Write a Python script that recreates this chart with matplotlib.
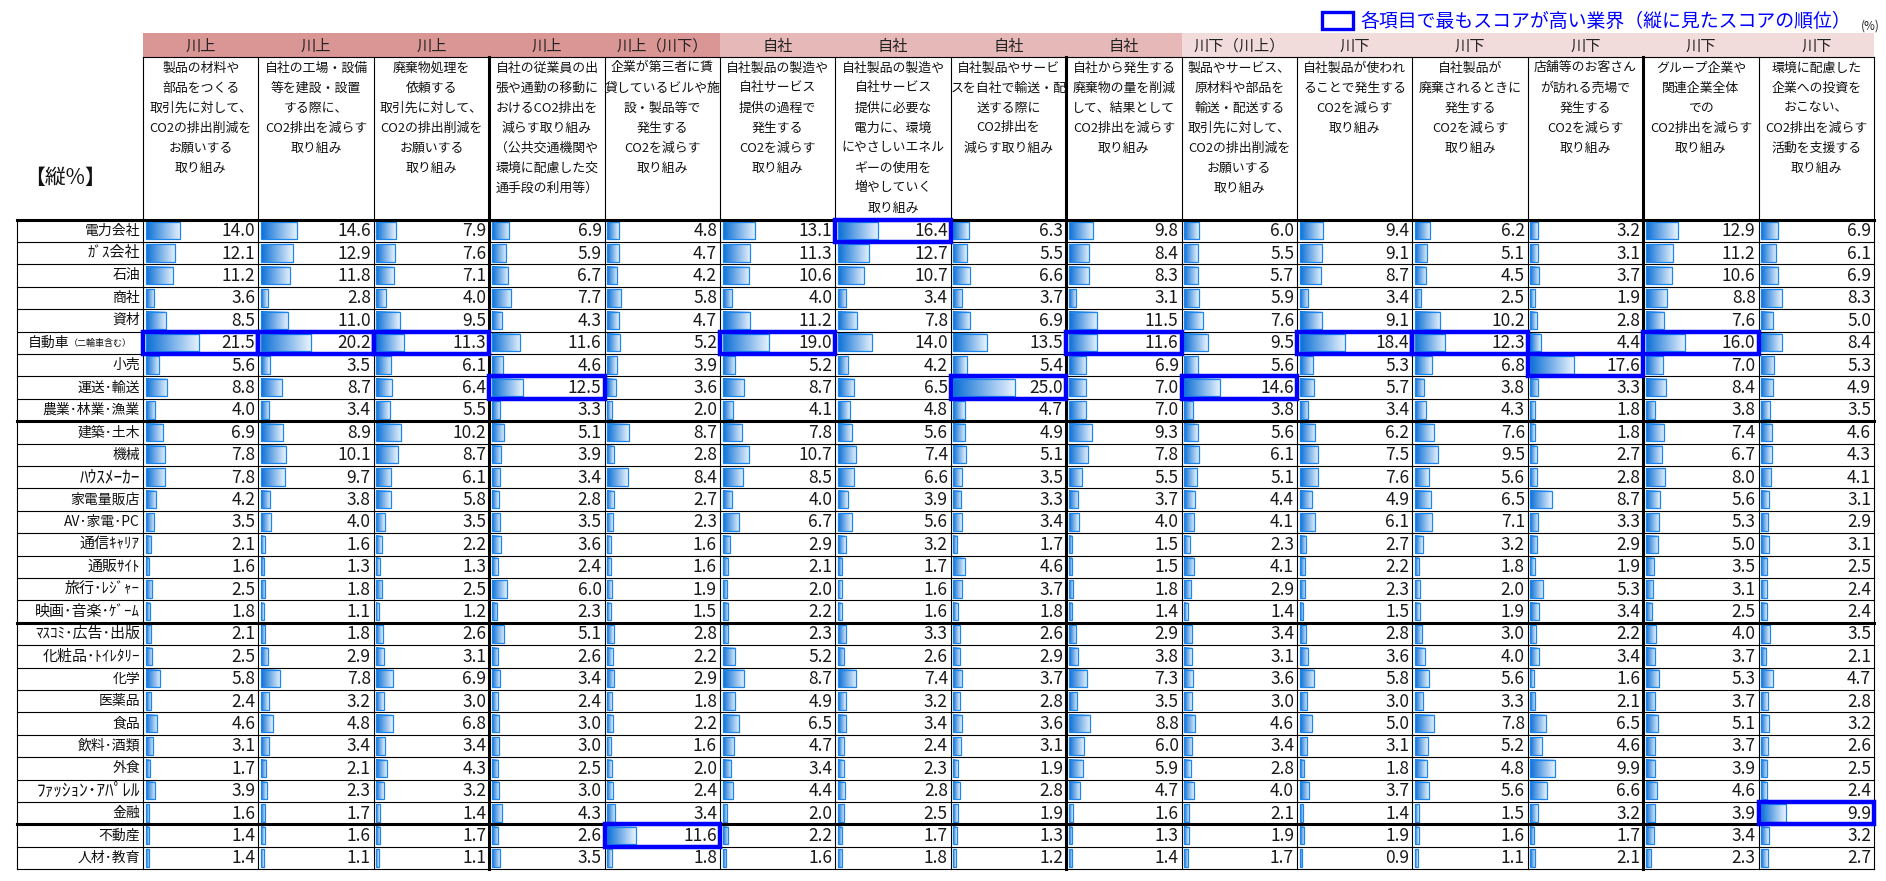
import numpy as np
import matplotlib.pyplot as plt
from matplotlib.colors import LinearSegmentedColormap
from matplotlib.patches import Rectangle

plt.rcParams['font.family'] = ['Noto Sans CJK JP', 'DejaVu Sans']

# row labels (industries)
industries = ["電力会社", "ｶﾞｽ会社", "石油", "商社", "資材", "自動車", "小売", "運送･輸送",
              "農業･林業･漁業", "建築･土木", "機械", "ﾊｳｽﾒｰｶｰ", "家電量販店", "AV･家電･PC",
              "通信ｷｬﾘｱ", "通販ｻｲﾄ", "旅行･ﾚｼﾞｬｰ", "映画･音楽･ｹﾞｰﾑ", "ﾏｽｺﾐ･広告･出版",
              "化粧品･ﾄｲﾚﾀﾘｰ", "化学", "医薬品", "食品", "飲料･酒類", "外食", "ﾌｧｯｼｮﾝ･ｱﾊﾟﾚﾙ",
              "金融", "不動産", "人材･教育"]

stages = ["川上", "川上", "川上", "川上", "川上（川下）", "自社", "自社", "自社", "自社",
          "川下（川上）", "川下", "川下", "川下", "川下", "川下"]

headers = [
    ["製品の材料や", "部品をつくる", "取引先に対して、", "CO2の排出削減を", "お願いする", "取り組み"],
    ["自社の工場・設備", "等を建設・設置", "する際に、", "CO2排出を減らす", "取り組み"],
    ["廃棄物処理を", "依頼する", "取引先に対して、", "CO2の排出削減を", "お願いする", "取り組み"],
    ["自社の従業員の出", "張や通勤の移動に", "おけるCO2排出を", "減らす取り組み", "（公共交通機関や",
     "環境に配慮した交", "通手段の利用等）"],
    ["企業が第三者に賃", "貸しているビルや施", "設・製品等で", "発生する", "CO2を減らす", "取り組み"],
    ["自社製品の製造や", "自社サービス", "提供の過程で", "発生する", "CO2を減らす", "取り組み"],
    ["自社製品の製造や", "自社サービス", "提供に必要な", "電力に、環境", "にやさしいエネル",
     "ギーの使用を", "増やしていく", "取り組み"],
    ["自社製品やサービ", "スを自社で輸送・配", "送する際に", "CO2排出を", "減らす取り組み"],
    ["自社から発生する", "廃棄物の量を削減", "して、結果として", "CO2排出を減らす", "取り組み"],
    ["製品やサービス、", "原材料や部品を", "輸送・配送する", "取引先に対して、", "CO2の排出削減を",
     "お願いする", "取り組み"],
    ["自社製品が使われ", "ることで発生する", "CO2を減らす", "取り組み"],
    ["自社製品が", "廃棄されるときに", "発生する", "CO2を減らす", "取り組み"],
    ["店舗等のお客さん", "が訪れる売場で", "発生する", "CO2を減らす", "取り組み"],
    ["グループ企業や", "関連企業全体", "での", "CO2排出を減らす", "取り組み"],
    ["環境に配慮した", "企業への投資を", "おこない、", "CO2排出を減らす", "活動を支援する", "取り組み"],
]

# values per column (縦%)
up_materials = [14.0, 12.1, 11.2, 3.6, 8.5, 21.5, 5.6, 8.8, 4.0, 6.9, 7.8, 7.8, 4.2, 3.5, 2.1,
                1.6, 2.5, 1.8, 2.1, 2.5, 5.8, 2.4, 4.6, 3.1, 1.7, 3.9, 1.6, 1.4, 1.4]
up_facilities = [14.6, 12.9, 11.8, 2.8, 11.0, 20.2, 3.5, 8.7, 3.4, 8.9, 10.1, 9.7, 3.8, 4.0, 1.6,
                 1.3, 1.8, 1.1, 1.8, 2.9, 7.8, 3.2, 4.8, 3.4, 2.1, 2.3, 1.7, 1.6, 1.1]
up_waste = [7.9, 7.6, 7.1, 4.0, 9.5, 11.3, 6.1, 6.4, 5.5, 10.2, 8.7, 6.1, 5.8, 3.5, 2.2,
            1.3, 2.5, 1.2, 2.6, 3.1, 6.9, 3.0, 6.8, 3.4, 4.3, 3.2, 1.4, 1.7, 1.1]
up_commute = [6.9, 5.9, 6.7, 7.7, 4.3, 11.6, 4.6, 12.5, 3.3, 5.1, 3.9, 3.4, 2.8, 3.5, 3.6,
              2.4, 6.0, 2.3, 5.1, 2.6, 3.4, 2.4, 3.0, 3.0, 2.5, 3.0, 4.3, 2.6, 3.5]
up_leased = [4.8, 4.7, 4.2, 5.8, 4.7, 5.2, 3.9, 3.6, 2.0, 8.7, 2.8, 8.4, 2.7, 2.3, 1.6,
             1.6, 1.9, 1.5, 2.8, 2.2, 2.9, 1.8, 2.2, 1.6, 2.0, 2.4, 3.4, 11.6, 1.8]
own_process = [13.1, 11.3, 10.6, 4.0, 11.2, 19.0, 5.2, 8.7, 4.1, 7.8, 10.7, 8.5, 4.0, 6.7, 2.9,
               2.1, 2.0, 2.2, 2.3, 5.2, 8.7, 4.9, 6.5, 4.7, 3.4, 4.4, 2.0, 2.2, 1.6]
own_energy = [16.4, 12.7, 10.7, 3.4, 7.8, 14.0, 4.2, 6.5, 4.8, 5.6, 7.4, 6.6, 3.9, 5.6, 3.2,
              1.7, 1.6, 1.6, 3.3, 2.6, 7.4, 3.2, 3.4, 2.4, 2.3, 2.8, 2.5, 1.7, 1.8]
own_transport = [6.3, 5.5, 6.6, 3.7, 6.9, 13.5, 5.4, 25.0, 4.7, 4.9, 5.1, 3.5, 3.3, 3.4, 1.7,
                 4.6, 3.7, 1.8, 2.6, 2.9, 3.7, 2.8, 3.6, 3.1, 1.9, 2.8, 1.9, 1.3, 1.2]
own_waste = [9.8, 8.4, 8.3, 3.1, 11.5, 11.6, 6.9, 7.0, 7.0, 9.3, 7.8, 5.5, 3.7, 4.0, 1.5,
             1.5, 1.8, 1.4, 2.9, 3.8, 7.3, 3.5, 8.8, 6.0, 5.9, 4.7, 1.6, 1.3, 1.4]
down_logistics = [6.0, 5.5, 5.7, 5.9, 7.6, 9.5, 5.6, 14.6, 3.8, 5.6, 6.1, 5.1, 4.4, 4.1, 2.3,
                  4.1, 2.9, 1.4, 3.4, 3.1, 3.6, 3.0, 4.6, 3.4, 2.8, 4.0, 2.1, 1.9, 1.7]
down_use = [9.4, 9.1, 8.7, 3.4, 9.1, 18.4, 5.3, 5.7, 3.4, 6.2, 7.5, 7.6, 4.9, 6.1, 2.7,
            2.2, 2.3, 1.5, 2.8, 3.6, 5.8, 3.0, 5.0, 3.1, 1.8, 3.7, 1.4, 1.9, 0.9]
down_disposal = [6.2, 5.1, 4.5, 2.5, 10.2, 12.3, 6.8, 3.8, 4.3, 7.6, 9.5, 5.6, 6.5, 7.1, 3.2,
                 1.8, 2.0, 1.9, 3.0, 4.0, 5.6, 3.3, 7.8, 5.2, 4.8, 5.6, 1.5, 1.6, 1.1]
down_store = [3.2, 3.1, 3.7, 1.9, 2.8, 4.4, 17.6, 3.3, 1.8, 1.8, 2.7, 2.8, 8.7, 3.3, 2.9,
              1.9, 5.3, 3.4, 2.2, 3.4, 1.6, 2.1, 6.5, 4.6, 9.9, 6.6, 3.2, 1.7, 2.1]
down_group = [12.9, 11.2, 10.6, 8.8, 7.6, 16.0, 7.0, 8.4, 3.8, 7.4, 6.7, 8.0, 5.6, 5.3, 5.0,
              3.5, 3.1, 2.5, 4.0, 3.7, 5.3, 3.7, 5.1, 3.7, 3.9, 4.6, 3.9, 3.4, 2.3]
down_invest = [6.9, 6.1, 6.9, 8.3, 5.0, 8.4, 5.3, 4.9, 3.5, 4.6, 4.3, 4.1, 3.1, 2.9, 3.1,
               2.5, 2.4, 2.4, 3.5, 2.1, 4.7, 2.8, 3.2, 2.6, 2.5, 2.4, 9.9, 3.2, 2.7]

columns = [up_materials, up_facilities, up_waste, up_commute, up_leased,
           own_process, own_energy, own_transport, own_waste,
           down_logistics, down_use, down_disposal, down_store, down_group, down_invest]

stage_fill = {"川上": "#DA9694", "川上（川下）": "#DA9694", "自社": "#E6B8B7",
              "川下（川上）": "#F2DCDB", "川下": "#F2DCDB"}

# layout in pixels
W, H = 1886, 881
x_lab = 17
x0, cw = 143, 115.4
band_top, band_bot = 33, 57
y0, rh = 219.5, 22.4
px_per = 2.47
bar_h = 17.5
thick_rows = [9, 18, 27]
thick_cols = [3, 8, 13]

fig = plt.figure(figsize=(W / 100, H / 100), dpi=100)
ax = fig.add_axes([0, 0, 1, 1])
ax.axis('off')

n_rows = len(industries)
n_cols = len(columns)
y_bot = y0 + n_rows * rh
x_end = x0 + n_cols * cw

# header band
for j, st in enumerate(stages):
    ax.add_patch(Rectangle((x0 + j * cw, band_top), cw, band_bot - band_top,
                           facecolor=stage_fill[st], edgecolor='none'))
    ax.text(x0 + (j + 0.5) * cw, (band_top + band_bot) / 2 + 1, st, ha='center', va='center',
            fontsize=11, color='#222222')
    for k, line in enumerate(headers[j]):
        ax.text(x0 + (j + 0.5) * cw, 68 + 20 * k, line, ha='center', va='center',
                fontsize=9.3, color='#111111')

ax.text(24, 178, "【縦%】", ha='left', va='center', fontsize=15, color='#111111')

# legend
ax.add_patch(Rectangle((1322, 12), 31, 17, facecolor='none', edgecolor='#0000FF', lw=2.4))
ax.text(1360, 21, "各項目で最もスコアが高い業界（縦に見たスコアの順位）", ha='left', va='center',
        fontsize=13.6, color='#0000FF')
ax.text(1880, 26, "(%)", ha='right', va='center', fontsize=8.5, color='#222222')

# bars with gradient
cmap = LinearSegmentedColormap.from_list('barblue', ['#0A6ED6', '#EAF4FD'])
grad = np.linspace(0, 1, 256).reshape(1, -1)
row_c = y0 + (np.arange(n_rows) + 0.5) * rh
for j, vals in enumerate(columns):
    vals = np.array(vals)
    left = x0 + j * cw + 2.5
    widths = vals * px_per
    for yc, w in zip(row_c, widths):
        ax.imshow(grad, cmap=cmap, aspect='auto', interpolation='bilinear',
                  extent=(left, left + w, yc + bar_h / 2, yc - bar_h / 2), zorder=2)
    ax.barh(row_c, widths, left=left, height=bar_h, facecolor='none',
            edgecolor='#1A86EE', lw=0.9, zorder=3)
    for yc, v in zip(row_c, vals):
        ax.text(x0 + (j + 1) * cw - 3, yc + 0.5, f"{v:.1f}", ha='right', va='center',
                fontsize=12.5, color='#1a1a1a', zorder=4)


def kana_share(s):
    # half-width katakana only (not the half-width middle dot)
    n = sum(1 for ch in s if '\uff66' <= ch <= '\uff9f')
    return n / len(s)


# row labels
for i, name in enumerate(industries):
    if name == "自動車":
        ax.text(69, row_c[i], name, ha='right', va='center', fontsize=10, color='#111111')
        ax.text(69, row_c[i] + 1, "（二輪車含む）", ha='left', va='center', fontsize=6.5,
                color='#111111')
    else:
        share = kana_share(name)
        fs = 12.5 if share > 0.8 else (10.8 if share > 0 else 10)
        ax.text(140, row_c[i], name, ha='right', va='center', fontsize=fs, color='#111111')

# grid lines
ax.plot([x0, x_end], [band_bot, band_bot], color='black', lw=0.8, zorder=5)
for i in range(n_rows + 1):
    lw = 2.2 if (i == 0 or i in thick_rows) else 0.8
    ax.plot([x_lab, x_end], [y0 + i * rh] * 2, color='black', lw=lw, zorder=5)
ax.plot([x_lab, x_lab], [y0, y_bot], color='black', lw=0.8, zorder=5)
for j in range(n_cols + 1):
    lw = 2.2 if j in thick_cols else 0.8
    ax.plot([x0 + j * cw] * 2, [band_bot, y_bot], color='black', lw=lw, zorder=5)

# highlight top score per column
for j, vals in enumerate(columns):
    i = int(np.argmax(vals))
    ax.add_patch(Rectangle((x0 + j * cw, y0 + i * rh), cw, rh, facecolor='none',
                           edgecolor='#0000FF', lw=3.2, zorder=6))

ax.set_xlim(0, W)
ax.set_ylim(H, 0)
fig.savefig('out.png', dpi=100)
